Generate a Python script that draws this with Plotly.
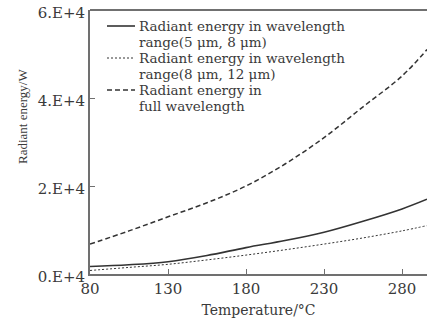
import plotly.graph_objects as go

temperature = [80, 105, 130, 155, 180, 205, 230, 255, 280, 296]
energy_5_8 = [1700, 2100, 2800, 4200, 6000, 7600, 9500, 12000, 14800, 17000]
energy_8_12 = [800, 1500, 2200, 3200, 4300, 5500, 6800, 8200, 9800, 11000]
energy_full = [6800, 9800, 13000, 16200, 20000, 25000, 31000, 38000, 45000, 51000]

x_ticks = [80, 130, 180, 230, 280]
y_ticks = [0, 20000, 40000, 60000]
y_tick_text = ["0.E+4", "2.E+4", "4.E+4", "6.E+4"]

series_names = [
    ["Radiant energy in wavelength", "range(5 μm, 8 μm)"],
    ["Radiant energy in wavelength", "range(8 μm, 12 μm)"],
    ["Radiant energy in", "full wavelength"],
]
x_title = "Temperature/°C"
y_title = "Radiant energy/W"

FONT = "DejaVu Serif"
TXT = "#3a3a3a"
LINE = "#333333"
AX = "#707070"

styles = [
    dict(color=LINE, width=1.6, dash="solid"),
    dict(color=LINE, width=1.0, dash="2px,2px"),
    dict(color=LINE, width=1.5, dash="5px,3px"),
]
series = [energy_5_8, energy_8_12, energy_full]

fig = go.Figure()
for vals, st, nm in zip(series, styles, series_names):
    fig.add_trace(go.Scatter(x=temperature, y=vals, mode="lines", name=" ".join(nm),
                             line=dict(shape="spline", **st), showlegend=False))

# legend (drawn as text + sample lines, in paper coordinates)
ann = []
shapes = []
px_x0, px_x1, px_text = 107, 135, 137
line_rows = [[26, 42], [58, 74], [90, 106]]
def px2x(p):
    return (p - 90) / 337.0
def py2y(p):
    return (274 - p) / 264.0
for nm, rows, st in zip(series_names, line_rows, styles):
    for txt, row in zip(nm, rows):
        ann.append(dict(xref="paper", yref="paper", x=px2x(px_text), y=py2y(row),
                        xanchor="left", yanchor="middle", text=txt, showarrow=False,
                        font=dict(family=FONT, size=13.5, color=TXT)))
    shapes.append(dict(type="line", xref="paper", yref="paper",
                       x0=px2x(px_x0), x1=px2x(px_x1), y0=py2y(rows[0]), y1=py2y(rows[0]),
                       line=st))
shapes.append(dict(type="line", xref="paper", yref="paper", x0=0, x1=1, y0=1, y1=1,
                   line=dict(color=AX, width=2)))

# y-axis title (placed off-centre as in the reference)
ann.append(dict(xref="paper", yref="paper", x=px2x(22), y=py2y(117), xanchor="center",
                yanchor="middle", text=y_title, textangle=-90, showarrow=False,
                font=dict(family="Liberation Serif", size=13, color=TXT)))

fig.update_layout(
    width=427, height=324,
    margin=dict(l=90, r=0, t=10, b=50),
    paper_bgcolor="white", plot_bgcolor="white",
    font=dict(family=FONT, size=15, color=TXT),
    showlegend=False,
    annotations=ann,
    shapes=shapes,
    xaxis=dict(range=[80, 296], tickvals=x_ticks, showgrid=False, zeroline=False,
               showline=True, linecolor=AX, linewidth=2, ticks="inside", ticklen=5,
               tickcolor=AX, tickfont=dict(family=FONT, size=15, color=TXT),
               title=dict(text=x_title, standoff=8,
                          font=dict(family=FONT, size=14, color=TXT))),
    yaxis=dict(range=[0, 60000], tickvals=y_ticks, ticktext=y_tick_text, showgrid=False,
               zeroline=False, showline=True, linecolor=AX, linewidth=2, ticks="inside",
               ticklen=5, tickcolor=AX, ticklabelshift=3, ticklabeloverflow="allow",
               tickfont=dict(family=FONT, size=15, color=TXT)),
)

fig.write_html("out.html")
